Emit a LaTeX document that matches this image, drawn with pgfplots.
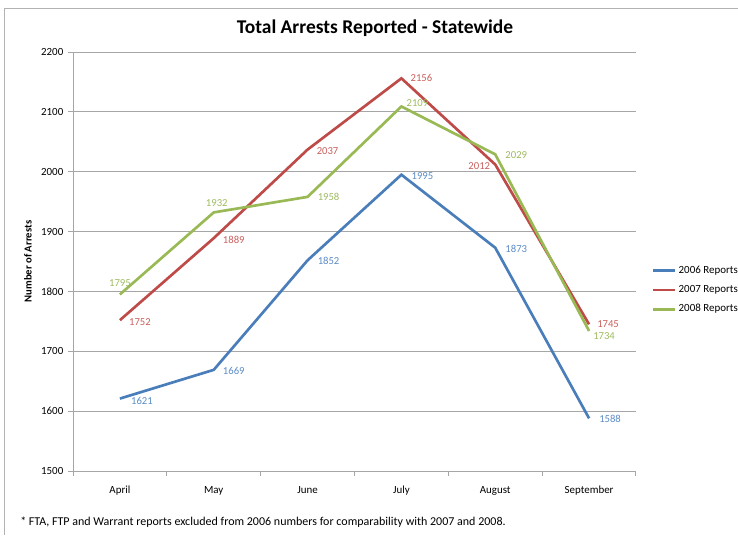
\documentclass[border=0pt]{standalone}
\usepackage{fontspec}
\setmainfont{Carlito}
\usepackage{pgfplots}
\pgfplotsset{compat=1.18}
\usepackage{pgfplotstable}
\definecolor{c6}{HTML}{4A7EBB}
\definecolor{c7}{HTML}{BE4B48}
\definecolor{c8}{HTML}{98B954}
\definecolor{l6}{HTML}{5B8CC6}
\definecolor{l7}{HTML}{C8605D}
\definecolor{l8}{HTML}{9DBB5F}
\definecolor{gridc}{HTML}{A6A6A6}
\pgfplotsset{/pgf/number format/assume math mode=true, /pgf/number format/1000 sep={}}

\pgfplotstableread{
x y dx dy
0 1621 22 -2
1 1669 20 -1
2 1852 21 -1
3 1995 21 -1
4 1873 21 -1
5 1588 21 -1
}\tsix
\pgfplotstableread{
x y dx dy
0 1752 20 -2
1 1889 20 -2
2 2037 20 -2
3 2156 20 0
4 2012 -16 -2
5 1745 19 0
}\tseven
\pgfplotstableread{
x y dx dy
0 1795 0 11
1 1932 3 9
2 1958 21 0
3 2109 16 3
4 2029 21 -1
5 1734 15 -5
}\teight

\begin{document}
\begin{tikzpicture}[x=0.75pt,y=0.75pt]
\useasboundingbox (0,0) rectangle (738,535);
\draw[gray!60, line width=0.9pt] (4.5,0) -- (4.5,526.5) -- (738,526.5);
\node[font=\bfseries\fontsize{14.6}{17}\selectfont] at (375,507) {Total Arrests Reported - Statewide};
\node[font=\fontsize{9}{11}\selectfont, anchor=west, inner sep=0pt] at (20,13) {* FTA, FTP and Warrant reports excluded from 2006 numbers for comparability with 2007 and 2008.};
\begin{axis}[
  at={(54.75pt,48pt)}, anchor=south west,
  scale only axis, width=422.25pt, height=314.25pt,
  xmin=-0.5, xmax=5.5, ymin=1500, ymax=2200,
  ytick={1500,1600,...,2200},
  xtick={0,...,5},
  xticklabels={April,May,June,July,August,September},
  minor xtick={-0.5,0.5,...,5.5},
  major x tick style={draw=none},
  tick align=outside,
  major tick length=3.75pt, minor tick length=3.75pt,
  axis x line*=bottom, axis y line*=left,
  axis line style={gridc, line width=0.75pt},
  tick style={gridc, line width=0.75pt},
  ymajorgrids, grid style={gridc, line width=0.75pt},
  ticklabel style={font=\fontsize{8.2}{10}\selectfont, text=black},
  xticklabel style={yshift=-4pt},
  ylabel={Number of Arrests},
  ylabel style={at={(axis description cs:-0.08,0.5)}, anchor=center, font=\bfseries\fontsize{8}{10}\selectfont},
  legend style={at={(axis description cs:1.028,0.432)}, anchor=west, draw=none, fill=none,
    font=\fontsize{8.2}{10}\selectfont, row sep=3.5pt, inner sep=0pt},
  legend cell align=left,
  legend image code/.code={\draw[#1] (0pt,0pt) -- (16pt,0pt);},
  every node near coord/.append style={font=\fontsize{8}{10}\selectfont, anchor=center,
    xshift=0.75*\dx pt, yshift=0.75*\dy pt},
  visualization depends on={\thisrow{dx} \as \dx},
  visualization depends on={\thisrow{dy} \as \dy},
  clip=false,
]
\addplot[c6, line width=2pt, nodes near coords, point meta=explicit, every node near coord/.append style={text=l6}] table[x=x,y=y,meta=y] {\tsix};
\addplot[c7, line width=2pt, nodes near coords, point meta=explicit, every node near coord/.append style={text=l7}] table[x=x,y=y,meta=y] {\tseven};
\addplot[c8, line width=2pt, nodes near coords, point meta=explicit, every node near coord/.append style={text=l8}] table[x=x,y=y,meta=y] {\teight};
\legend{2006 Reports, 2007 Reports, 2008 Reports}
\end{axis}
\end{tikzpicture}
\end{document}
